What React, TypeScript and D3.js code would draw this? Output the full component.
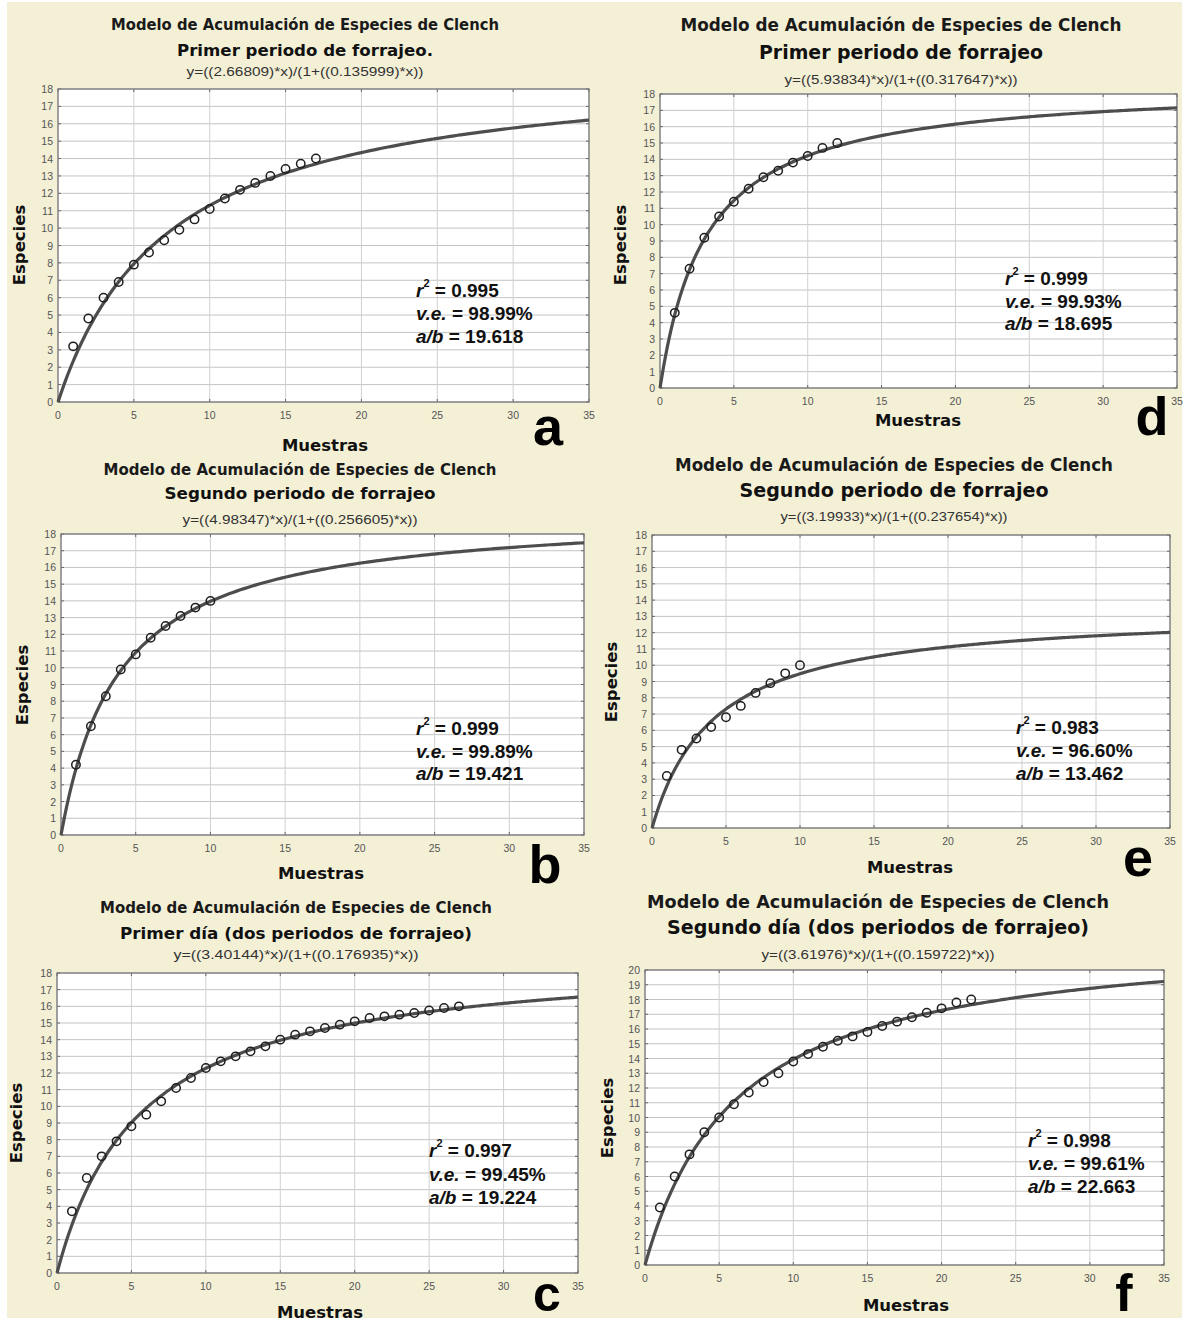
import React from "react";
import * as d3 from "d3";

// --- chart data ---
const panelIds = ["a", "d", "b", "e", "c", "f"];
const titleMain = "Modelo de Acumulación de Especies de Clench";
const titleSub = [
  "Primer periodo de forrajeo.",
  "Primer periodo de forrajeo",
  "Segundo periodo de forrajeo",
  "Segundo periodo de forrajeo",
  "Primer día (dos periodos de forrajeo)",
  "Segundo día (dos periodos de forrajeo)",
];
const equations = [
  "y=((2.66809)*x)/(1+((0.135999)*x))",
  "y=((5.93834)*x)/(1+((0.317647)*x))",
  "y=((4.98347)*x)/(1+((0.256605)*x))",
  "y=((3.19933)*x)/(1+((0.237654)*x))",
  "y=((3.40144)*x)/(1+((0.176935)*x))",
  "y=((3.61976)*x)/(1+((0.159722)*x))",
];
const paramA = [2.66809, 5.93834, 4.98347, 3.19933, 3.40144, 3.61976];
const paramB = [0.135999, 0.317647, 0.256605, 0.237654, 0.176935, 0.159722];
const r2Values = ["0.995", "0.999", "0.999", "0.983", "0.997", "0.998"];
const veValues = ["98.99%", "99.93%", "99.89%", "96.60%", "99.45%", "99.61%"];
const abValues = ["19.618", "18.695", "19.421", "13.462", "19.224", "22.663"];
const yMaxValues = [18, 18, 18, 18, 18, 20];
const xTicks = [0, 5, 10, 15, 20, 25, 30, 35];

// observed cumulative species, samples 1..n
const obsA = [3.2, 4.8, 6.0, 6.9, 7.9, 8.6, 9.3, 9.9, 10.5, 11.1, 11.7, 12.2, 12.6, 13.0, 13.4, 13.7, 14.0];
const obsD = [4.6, 7.3, 9.2, 10.5, 11.4, 12.2, 12.9, 13.3, 13.8, 14.2, 14.7, 15.0];
const obsB = [4.2, 6.5, 8.3, 9.9, 10.8, 11.8, 12.5, 13.1, 13.6, 14.0];
const obsE = [3.2, 4.8, 5.5, 6.2, 6.8, 7.5, 8.3, 8.9, 9.5, 10.0];
const obsC = [3.7, 5.7, 7.0, 7.9, 8.8, 9.5, 10.3, 11.1, 11.7, 12.3, 12.7, 13.0, 13.3, 13.6, 14.0, 14.3, 14.5, 14.7, 14.9, 15.1, 15.3, 15.4, 15.5, 15.6, 15.75, 15.9, 16.0];
const obsF = [3.9, 6.0, 7.5, 9.0, 10.0, 10.9, 11.7, 12.4, 13.0, 13.8, 14.3, 14.8, 15.2, 15.5, 15.8, 16.2, 16.5, 16.8, 17.1, 17.4, 17.8, 18.0];
const observed = [obsA, obsD, obsB, obsE, obsC, obsF];

// --- layout (pixel positions for each panel) ---
const layouts = [
  { x0: 58, x1: 589, y0: 89, y1: 402, cx: 305, t1y: 25, t1w: 388, t1s: 15, t2y: 50, t2w: 256, t2s: 16.5, eqy: 72, eqw: 237, muX: 325, muY: 445, esX: 19, esY: 245, stX: 416, stY: [290, 313, 336], lx: 548, ly: 445, ls: 54 },
  { x0: 660, x1: 1177, y0: 94, y1: 388, cx: 901, t1y: 25, t1w: 441, t1s: 17, t2y: 52, t2w: 284, t2s: 19, eqy: 80, eqw: 233, muX: 918, muY: 420, esX: 620, esY: 245, stX: 1005, stY: [278, 301, 323], lx: 1152, ly: 435, ls: 54 },
  { x0: 61, x1: 584, y0: 534, y1: 835, cx: 300, t1y: 470, t1w: 393, t1s: 15, t2y: 493, t2w: 271, t2s: 16.5, eqy: 520, eqw: 235, muX: 321, muY: 873, esX: 22, esY: 685, stX: 416, stY: [728, 751, 773], lx: 545, ly: 883, ls: 54 },
  { x0: 652, x1: 1170, y0: 535, y1: 828, cx: 894, t1y: 465, t1w: 438, t1s: 17, t2y: 490, t2w: 309, t2s: 19, eqy: 517, eqw: 227, muX: 910, muY: 867, esX: 611, esY: 682, stX: 1016, stY: [727, 750, 773], lx: 1138, ly: 876, ls: 54 },
  { x0: 57, x1: 578, y0: 973, y1: 1273, cx: 296, t1y: 908, t1w: 392, t1s: 15, t2y: 933, t2w: 352, t2s: 16.5, eqy: 955, eqw: 245, muX: 320, muY: 1312, esX: 16, esY: 1123, stX: 429, stY: [1150, 1174, 1197], lx: 547, ly: 1311, ls: 50 },
  { x0: 645, x1: 1164, y0: 970, y1: 1265, cx: 878, t1y: 902, t1w: 462, t1s: 17, t2y: 927, t2w: 422, t2s: 19, eqy: 955, eqw: 233, muX: 906, muY: 1305, esX: 607, esY: 1118, stX: 1028, stY: [1140, 1163, 1186], lx: 1124, ly: 1311, ls: 52 },
];

const TITLE_FONT = "'DejaVu Sans', Verdana, sans-serif";
const ARIAL = "'Liberation Sans', Arial, sans-serif";

const Panel = ({ i }) => {
  const L = layouts[i];
  const a = paramA[i];
  const b = paramB[i];
  const yMax = yMaxValues[i];

  const x = d3.scaleLinear().domain([0, 35]).range([L.x0, L.x1]);
  const y = d3.scaleLinear().domain([0, yMax]).range([L.y1, L.y0]);
  const yTicks = d3.range(0, yMax + 1);

  // fitted Clench model drawn from the equation shown in the panel
  const curve = d3
    .line()
    .x((d) => x(d))
    .y((d) => y((a * d) / (1 + b * d)))
    .curve(d3.curveBasis);
  const xs = d3.range(0, 35.01, 0.25);

  const pts = observed[i].map((v, k) => ({ s: k + 1, v }));

  return (
    <g>
      {/* titles */}
      <text x={L.cx} y={L.t1y} textAnchor="middle" dominantBaseline="central"
        fontFamily={TITLE_FONT} fontWeight="bold" fontSize={L.t1s} fill="#1a1a1a"
        textLength={L.t1w} lengthAdjust="spacingAndGlyphs">{titleMain}</text>
      <text x={L.cx} y={L.t2y} textAnchor="middle" dominantBaseline="central"
        fontFamily={TITLE_FONT} fontWeight="bold" fontSize={L.t2s} fill="#111"
        textLength={L.t2w} lengthAdjust="spacingAndGlyphs">{titleSub[i]}</text>
      <text x={L.cx} y={L.eqy} textAnchor="middle" dominantBaseline="central"
        fontFamily={ARIAL} fontSize={12} fill="#333"
        textLength={L.eqw} lengthAdjust="spacingAndGlyphs">{equations[i]}</text>

      {/* plot area */}
      <rect x={L.x0} y={L.y0} width={L.x1 - L.x0} height={L.y1 - L.y0} fill="#fff" />
      {yTicks.map((t) => (
        <line key={"gy" + t} x1={L.x0} x2={L.x1} y1={y(t)} y2={y(t)} stroke="#c4c4c4" strokeWidth={1} />
      ))}
      {xTicks.map((t) => (
        <line key={"gx" + t} x1={x(t)} x2={x(t)} y1={L.y0} y2={L.y1} stroke="#d0d0d0" strokeWidth={1} />
      ))}
      {/* inner tick marks */}
      {yTicks.map((t) => (
        <g key={"ty" + t}>
          <line x1={L.x0} x2={L.x0 + 3} y1={y(t)} y2={y(t)} stroke="#666" />
          <line x1={L.x1 - 3} x2={L.x1} y1={y(t)} y2={y(t)} stroke="#666" />
        </g>
      ))}
      {xTicks.map((t) => (
        <g key={"tx" + t}>
          <line x1={x(t)} x2={x(t)} y1={L.y1} y2={L.y1 - 3} stroke="#666" />
          <line x1={x(t)} x2={x(t)} y1={L.y0} y2={L.y0 + 3} stroke="#666" />
        </g>
      ))}
      <rect x={L.x0} y={L.y0} width={L.x1 - L.x0} height={L.y1 - L.y0} fill="none" stroke="#7a7a7a" strokeWidth={1.3} />

      {/* tick labels */}
      {yTicks.map((t) => (
        <text key={"ly" + t} x={L.x0 - 5} y={y(t)} textAnchor="end" dominantBaseline="central"
          fontFamily={ARIAL} fontSize={10.5} fill="#555">{t}</text>
      ))}
      {xTicks.map((t) => (
        <text key={"lx" + t} x={x(t)} y={L.y1 + 13} textAnchor="middle" dominantBaseline="central"
          fontFamily={ARIAL} fontSize={10.5} fill="#555">{t}</text>
      ))}

      {/* fitted curve and observations */}
      <path d={curve(xs)} fill="none" stroke="#4d4d4d" strokeWidth={3.2} />
      {pts.map((p) => (
        <circle key={"p" + p.s} cx={x(p.s)} cy={y(p.v)} r={4.2} fill="none" stroke="#1e1e1e" strokeWidth={1.5} />
      ))}

      {/* statistics */}
      <text x={L.stX} y={L.stY[0]} dominantBaseline="central" fontFamily={ARIAL} fontWeight="bold" fontSize={19} fill="#111">
        <tspan fontStyle="italic">r</tspan>
        <tspan fontSize={11} dy={-7}>2</tspan>
        <tspan dy={7}>{" = " + r2Values[i]}</tspan>
      </text>
      <text x={L.stX} y={L.stY[1]} dominantBaseline="central" fontFamily={ARIAL} fontWeight="bold" fontSize={19} fill="#111">
        <tspan fontStyle="italic">v.e.</tspan>
        <tspan>{" = " + veValues[i]}</tspan>
      </text>
      <text x={L.stX} y={L.stY[2]} dominantBaseline="central" fontFamily={ARIAL} fontWeight="bold" fontSize={19} fill="#111">
        <tspan fontStyle="italic">a/b</tspan>
        <tspan>{" = " + abValues[i]}</tspan>
      </text>

      {/* axis titles */}
      <text x={L.muX} y={L.muY} textAnchor="middle" dominantBaseline="central"
        fontFamily={TITLE_FONT} fontWeight="bold" fontSize={16.5} fill="#111">Muestras</text>
      <text transform={`translate(${L.esX},${L.esY}) rotate(-90)`} textAnchor="middle" dominantBaseline="central"
        fontFamily={TITLE_FONT} fontWeight="bold" fontSize={16.5} fill="#111">Especies</text>

      {/* panel letter */}
      <text x={L.lx} y={L.ly} textAnchor="middle"
        fontFamily={ARIAL} fontWeight="bold" fontSize={L.ls} fill="#000">{panelIds[i]}</text>
    </g>
  );
};

export default function App() {
  return (
    <div style={{ position: "absolute", left: 0, top: 0 }}>
      <svg width={1188} height={1323} style={{ display: "block" }}>
        <rect x={0} y={0} width={1188} height={1323} fill="#fff" />
        <rect x={7} y={2} width={1175} height={1316} fill="#f4f0d6" />
        {panelIds.map((id, i) => (
          <Panel key={id} i={i} />
        ))}
      </svg>
    </div>
  );
}
